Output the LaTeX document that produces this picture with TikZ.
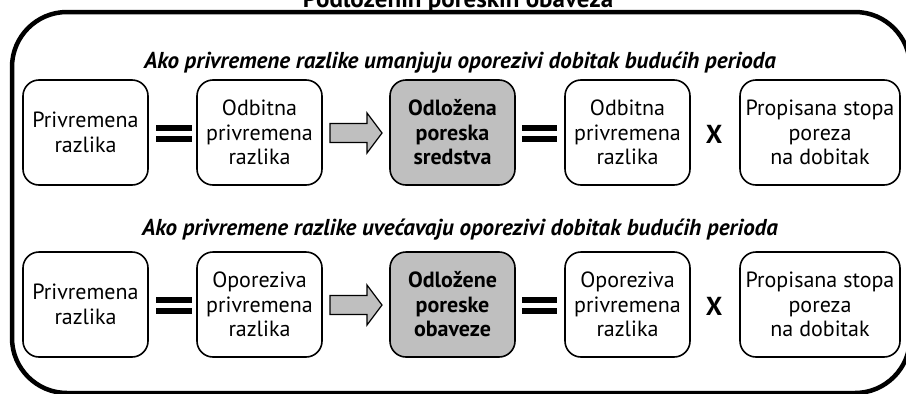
\documentclass[tikz,border=0pt]{standalone}
\usepackage{fontspec}
\setmainfont{PT Sans}
\usetikzlibrary{calc}
\begin{document}
\begin{tikzpicture}[x=1pt,y=-1pt,
  box/.style={draw,line width=1.6pt,rounded corners=16pt,minimum height=105pt,align=center,font=\fontsize{22}{24.5}\selectfont,inner sep=0pt},
  gbox/.style={box,fill=black!25,font=\fontsize{22}{24.5}\selectfont\bfseries},
  head/.style={font=\fontsize{23}{26}\selectfont\bfseries\itshape,anchor=base},
  eqbar/.style={fill=black,draw=none},
  xsign/.style={font=\fontsize{26}{26}\selectfont\bfseries},
  blockarrow/.style={draw,line width=1.2pt,fill=black!25,line join=miter}
]
\useasboundingbox (0,0) rectangle (906,394);
\node[font=\fontsize{25}{28}\selectfont\bfseries,anchor=base] (title) at (458,7) {Podloženih poreskih obaveza};
\draw[line width=4.5pt,rounded corners=55pt] (12,12) rectangle (910,393);

\foreach \r/\yc/\hy/\two/\three/\hd in {
  a/132.5/68/Odbitna/{Odložena\\poreska\\sredstva}/{Ako privremene razlike umanjuju oporezivi dobitak budućih perioda},
  b/304.5/235/Oporeziva/{Odložene\\poreske\\obaveze}/{Ako privremene razlike uvećavaju oporezivi dobitak budućih perioda}}{
  \node[head] (h\r) at (460,\hy) {\hd};
  \node[box,minimum width=125pt] (\r1) at (85.5,\yc) {Privremena\\razlika};
  \node[box,minimum width=125pt] (\r2) at (259.5,\yc) {\two\\privremena\\razlika};
  \node[gbox,minimum width=125pt] (\r3) at (452.5,\yc) {\three};
  \node[box,minimum width=125pt] (\r4) at (627.5,\yc) {\two\\privremena\\razlika};
  \node[box,minimum width=160pt] (\r5) at (820,\yc) {Propisana stopa\\poreza\\na dobitak};
  \coordinate (\r e1) at ($(\r1.east)!0.5!(\r2.west)+(1,1)$);
  \fill[eqbar] ([xshift=-18pt,yshift=-8.5pt]\r e1) rectangle ([xshift=18pt,yshift=-2.7pt]\r e1);
  \fill[eqbar] ([xshift=-18pt,yshift=2.7pt]\r e1) rectangle ([xshift=18pt,yshift=8.5pt]\r e1);
  \coordinate (\r e2) at ($(\r3.east)!0.5!(\r4.west)+(-0.5,1)$);
  \fill[eqbar] ([xshift=-17.5pt,yshift=-8.5pt]\r e2) rectangle ([xshift=17.5pt,yshift=-2.7pt]\r e2);
  \fill[eqbar] ([xshift=-17.5pt,yshift=2.7pt]\r e2) rectangle ([xshift=17.5pt,yshift=8.5pt]\r e2);
  \node[xsign] (\r x) at ($(\r4.east)!0.5!(\r5.west)+(-1,1.5)$) {X};
  \coordinate (\r am) at ($(\r2.east)!0.5!(\r3.west)+(0,0.5)$);
  \draw[blockarrow] ([xshift=-26pt,yshift=-9.5pt]\r am) -- ([xshift=11pt,yshift=-9.5pt]\r am)
    -- ([xshift=11pt,yshift=-20pt]\r am) -- ([xshift=26pt]\r am) -- ([xshift=11pt,yshift=20pt]\r am)
    -- ([xshift=11pt,yshift=9.5pt]\r am) -- ([xshift=-26pt,yshift=9.5pt]\r am) -- cycle;
}
\end{tikzpicture}
\end{document}
